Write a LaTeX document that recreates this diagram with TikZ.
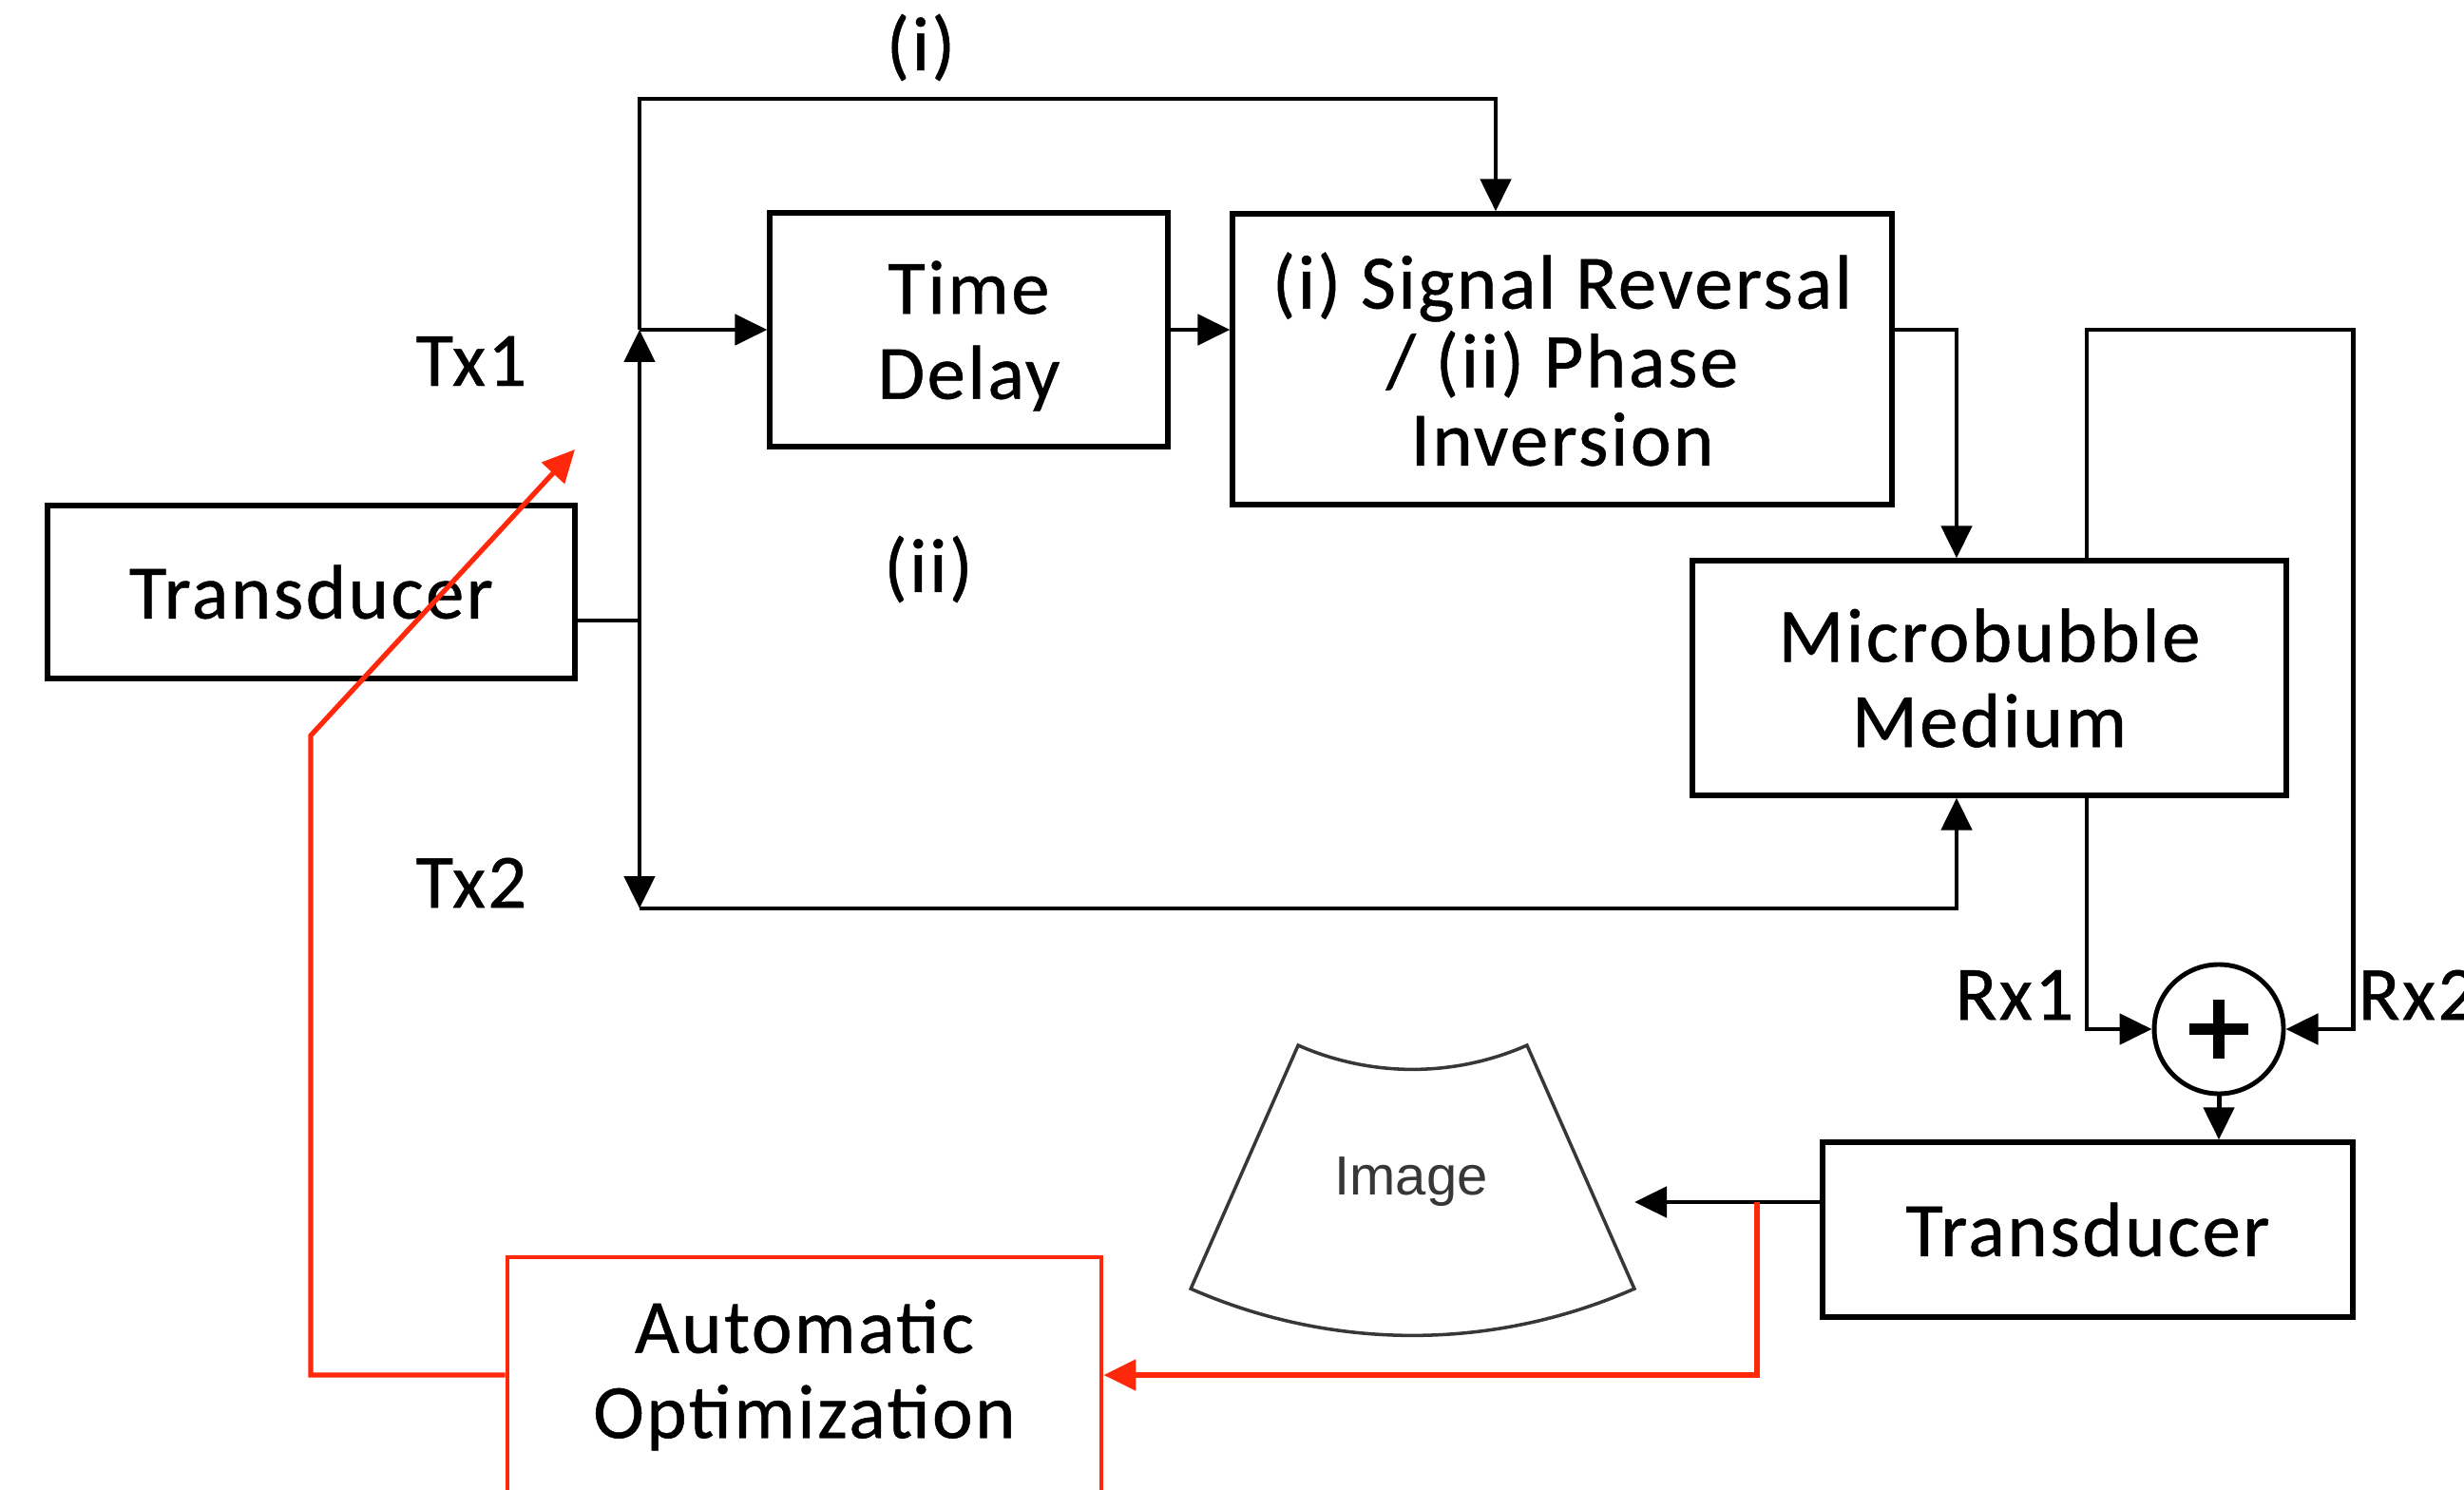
\documentclass[tikz,border=0pt]{standalone}
\usepackage{fontspec}
\setmainfont{Carlito}[LetterSpace=3, FakeBold=0.6]
\newfontfamily\imgfont{Liberation Sans}
\usepackage{tikz}
\usetikzlibrary{arrows.meta, positioning, calc}
\definecolor{loop-red}{RGB}{255,40,10}
\definecolor{img-gray}{RGB}{55,55,55}

\begin{document}
\begin{tikzpicture}[
    block/.style={rectangle, draw=black, line width=1.5pt, align=center, inner sep=0pt, font=\fontsize{23}{25.5}\selectfont},
    optblock/.style={block, draw=loop-red, line width=1.4pt},
    lbl/.style={inner sep=0pt, font=\fontsize{23}{25.5}\selectfont},
    wire/.style={line width=1.4pt},
    sig/.style={line width=1.4pt, -{Triangle[length=0.34cm, width=0.32cm]}},
    fb/.style={line width=1.5pt, draw=loop-red, -{Triangle[length=0.34cm, width=0.32cm]}},
]
\useasboundingbox (0,0) rectangle (25.93,15.67);

% Transmit chain
\node[block, minimum width=5.55cm, minimum height=1.82cm] (txducer) at (3.275,9.44) {Transducer};
\node[block, minimum width=4.19cm, minimum height=2.46cm] (delay) at (10.195,12.20) {\raisebox{-0.1cm}[\height][\depth]{\begin{tabular}{@{}c@{}}Time\\Delay\end{tabular}}};
\node[block, minimum width=6.94cm, minimum height=3.06cm, font=\fontsize{23}{23.5}\selectfont] (reversal) at (16.44,11.89) {(i) Signal Reversal\\/ (ii) Phase\\Inversion};
\node[block, minimum width=6.25cm, minimum height=2.47cm] (medium) at (20.935,8.535) {Microbubble\\Medium};

% Receive chain
\node[circle, draw, line width=1.4pt, minimum size=1.36cm, inner sep=0pt] (sum) at (23.35,4.84) {};
\draw[line width=3.4pt] ([xshift=-0.31cm]sum.center) -- ([xshift=0.31cm]sum.center);
\draw[line width=3.4pt] ([yshift=-0.31cm]sum.center) -- ([yshift=0.31cm]sum.center);
\node[block, minimum width=5.58cm, minimum height=1.84cm] (rxducer) at (21.97,2.73) {Transducer};
\node[optblock, minimum width=6.25cm, minimum height=2.48cm] (opt) at (8.465,1.20) {Automatic\\Optimization};

% Image sector
\coordinate (apex) at (14.865,7.40);
\draw[line width=1pt, img-gray] (apex) ++(246.2:2.984) arc[start angle=246.2, end angle=293.8, radius=2.984]
    -- ++(293.8:2.80) arc[start angle=293.8, end angle=246.2, radius=5.784] -- cycle;
\node[text=img-gray, font=\imgfont\fontsize{16.5}{20}\selectfont] (img) at (14.85,3.23) {Image};

% Labels
\node[lbl] (tx1) at (4.96,11.87) {Tx1};
\node[lbl] (tx2) at (4.96,6.38) {Tx2};
\node[lbl] (pathi) at (9.69,15.17) {(i)};
\node[lbl] (pathii) at (9.77,9.68) {(ii)};
\node[lbl, anchor=east] (rx1) at (21.83,5.20) {Rx1};
\node[lbl, anchor=west] (rx2) at (24.81,5.20) {Rx2};

% Bus
\coordinate (busin) at (6.73,9.14);
\coordinate (bustop) at (6.73,12.20);
\coordinate (busbot) at (6.73,6.11);
\coordinate (pathtop) at (6.73,14.63);
\draw[wire] (txducer.east |- busin) -- (busin);
\draw[sig] (busin) -- (bustop);
\draw[sig] (busin) -- (busbot);
\draw[sig] (bustop) -- (delay.west);
\draw[sig] (delay.east) -- (delay.east -| reversal.west);

% Path (i) and path (ii)
\draw[sig] (bustop) -- (pathtop) -| ([xshift=-0.7cm]reversal.north);
\draw[sig] (reversal.east |- delay.east) -| ([xshift=-0.345cm]medium.north);
\draw[sig] (busbot) -| ([xshift=-0.345cm]medium.south);

% Echoes Rx1 / Rx2
\coordinate (rx2top) at (24.76,12.20);
\draw[sig] ([xshift=1.025cm]medium.north) |- (rx2top) |- (sum.east);
\draw[sig] ([xshift=1.025cm]medium.south) |- (sum.west);
\draw[sig] (sum.south) -- (sum.south |- rxducer.north);

% Image out
\coordinate (imgin) at (17.20,3.02);
\draw[sig] (rxducer.west |- imgin) -- (imgin);

% Feedback loop
\coordinate (tap) at (18.49,3.02);
\coordinate (fbbend) at (3.27,7.93);
\coordinate (fbtip) at (6.05,10.94);
\draw[fb] (tap) |- (opt.east);
\draw[fb] (opt.west) -| (fbbend) -- (fbtip);

\end{tikzpicture}
\end{document}
